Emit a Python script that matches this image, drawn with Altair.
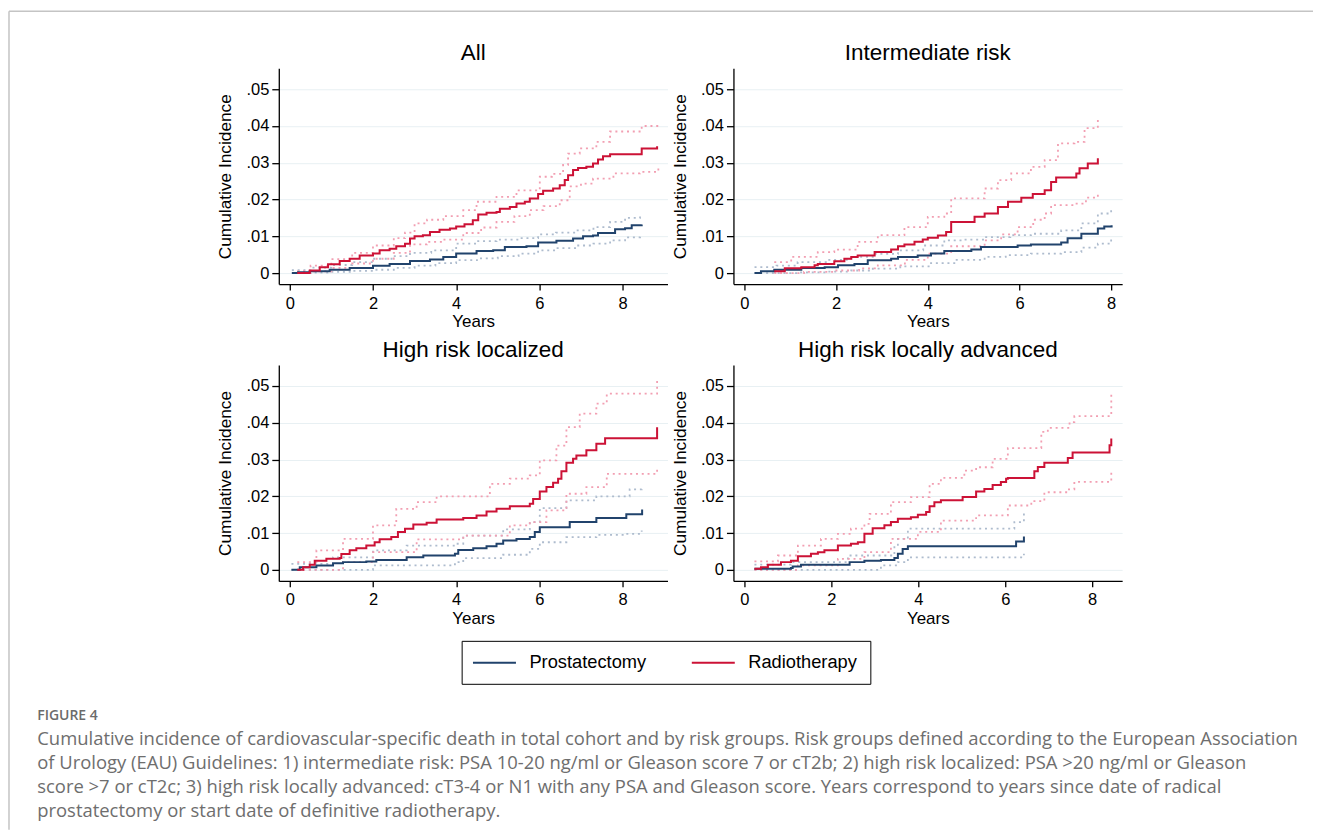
import altair as alt
import pandas as pd

NAVY = "#21436c"
RED = "#cc1236"
NAVY_CI = "#aebcce"
RED_CI = "#f29fb2"
FRAME = "#c4c4c4"
FONT = "Liberation Sans"
CAP_FONT = "Open Sans"

GROUPS = ["Prostatectomy", "Radiotherapy"]
CI_GROUPS = ["Prostatectomy CI", "Radiotherapy CI"]
PANELS = ["All", "Intermediate risk", "High risk localized", "High risk locally advanced"]
X_TICKS = [0, 2, 4, 6, 8]
Y_TICKS = [0, 0.01, 0.02, 0.03, 0.04, 0.05]

# ---- All ----
ALL_RP = [(0.05, 0.0), (0.2, 0.0002), (0.48, 0.0005), (0.96, 0.0009), (1.44, 0.0014), (2.0, 0.002),
          (2.4, 0.0025), (2.89, 0.0033), (3.37, 0.0037), (3.69, 0.0044), (4.0, 0.0053), (4.49, 0.006),
          (4.89, 0.0062), (5.17, 0.0071), (5.69, 0.0073), (5.97, 0.0083), (6.41, 0.0088), (6.81, 0.0094),
          (7.05, 0.01), (7.29, 0.0102), (7.41, 0.0109), (7.82, 0.0119), (8.06, 0.0122), (8.22, 0.013),
          (8.46, 0.0132)]
ALL_RP_HI = [(0.05, 0.0008), (0.5, 0.0015), (1.0, 0.0022), (1.5, 0.003), (2.0, 0.0039), (2.5, 0.0046),
             (2.89, 0.0055), (3.4, 0.0062), (4.0, 0.008), (4.5, 0.0087), (4.97, 0.0091), (5.5, 0.0095),
             (5.97, 0.0105), (6.4, 0.011), (6.89, 0.0116), (7.3, 0.0125), (7.7, 0.0139), (8.06, 0.015),
             (8.42, 0.0164)]
ALL_RP_LO = [(0.05, 0.0), (0.5, 0.0001), (1.0, 0.0003), (1.5, 0.0006), (2.0, 0.0009), (2.5, 0.0014),
             (3.0, 0.002), (3.5, 0.0027), (4.0, 0.0035), (4.5, 0.004), (5.0, 0.0046), (5.5, 0.0053),
             (5.97, 0.0062), (6.4, 0.0068), (6.9, 0.0075), (7.3, 0.008), (7.7, 0.0089), (8.06, 0.0097),
             (8.42, 0.0107)]
ALL_RT = [(0.18, 0.0), (0.48, 0.0007), (0.72, 0.0016), (0.92, 0.0024), (1.2, 0.0033), (1.44, 0.0039),
          (1.68, 0.0048), (2.0, 0.0053), (2.16, 0.0062), (2.4, 0.0066), (2.56, 0.0073), (2.77, 0.008),
          (2.89, 0.0094), (3.0, 0.01), (3.2, 0.0103), (3.37, 0.0112), (3.6, 0.0118), (3.85, 0.0121),
          (4.0, 0.0127), (4.2, 0.0133), (4.4, 0.0144), (4.53, 0.0159), (4.73, 0.0164), (4.97, 0.0166),
          (5.05, 0.0175), (5.29, 0.018), (5.45, 0.0189), (5.65, 0.0194), (5.77, 0.0203), (5.97, 0.0215),
          (6.09, 0.0224), (6.33, 0.023), (6.49, 0.0239), (6.61, 0.0253), (6.69, 0.0266), (6.81, 0.028),
          (6.93, 0.0286), (7.13, 0.0289), (7.29, 0.0298), (7.41, 0.0309), (7.53, 0.0318), (7.7, 0.0323),
          (8.46, 0.0339), (8.83, 0.0345)]
ALL_RT_HI = [(0.18, 0.0005), (0.5, 0.002), (1.0, 0.0038), (1.5, 0.0055), (2.0, 0.0075), (2.5, 0.0095),
             (2.77, 0.011), (3.0, 0.0135), (3.3, 0.0145), (3.69, 0.0155), (4.17, 0.0171), (4.49, 0.0194),
             (4.97, 0.0207), (5.45, 0.0225), (6.01, 0.0262), (6.3, 0.027), (6.57, 0.0294), (6.69, 0.0325),
             (6.97, 0.0339), (7.37, 0.0357), (7.7, 0.0385), (8.46, 0.04), (8.86, 0.0401)]
ALL_RT_LO = [(0.18, 0.0), (0.5, 0.0005), (1.0, 0.0014), (1.5, 0.0026), (2.0, 0.0039), (2.5, 0.0055),
             (2.89, 0.0078), (3.3, 0.0085), (3.69, 0.0091), (4.17, 0.0109), (4.6, 0.0124), (4.97, 0.0139),
             (5.4, 0.0155), (5.77, 0.0171), (6.1, 0.0182), (6.49, 0.0198), (6.73, 0.0236), (7.0, 0.0243),
             (7.29, 0.0257), (7.78, 0.0271), (8.42, 0.0275), (8.86, 0.0289)]

# ---- Intermediate risk ----
INT_RP = [(0.22, 0.0), (0.36, 0.0005), (0.65, 0.0009), (1.24, 0.0014), (1.75, 0.0016), (2.04, 0.0021),
          (2.4, 0.0025), (2.69, 0.0035), (3.2, 0.0039), (3.35, 0.0044), (3.78, 0.0048), (4.07, 0.0053),
          (4.36, 0.006), (4.95, 0.0064), (5.16, 0.0071), (5.96, 0.0075), (6.25, 0.0078), (6.91, 0.0083),
          (7.05, 0.0095), (7.35, 0.0107), (7.71, 0.0121), (7.85, 0.0127), (8.01, 0.013)]
INT_RP_HI = [(0.22, 0.0016), (0.7, 0.002), (1.16, 0.003), (1.8, 0.0036), (2.33, 0.0044), (2.8, 0.0052),
             (3.35, 0.0062), (3.9, 0.0075), (4.36, 0.0089), (4.8, 0.0091), (5.24, 0.0098), (5.8, 0.0103),
             (6.25, 0.0107), (6.91, 0.0116), (7.35, 0.0135), (7.71, 0.0162), (8.0, 0.0175)]
INT_RP_LO = [(0.22, 0.0), (1.2, 0.0002), (1.8, 0.0004), (2.33, 0.0007), (2.8, 0.0012), (3.4, 0.0018),
             (4.07, 0.0027), (4.6, 0.0036), (5.24, 0.0044), (5.7, 0.0049), (6.25, 0.0053), (6.91, 0.0057),
             (7.35, 0.0069), (7.71, 0.008), (8.0, 0.0091)]
INT_RT = [(0.65, 0.0005), (0.88, 0.0013), (1.24, 0.0016), (1.53, 0.0021), (1.6, 0.0025), (1.96, 0.0032),
          (2.18, 0.0039), (2.33, 0.0044), (2.47, 0.0048), (2.84, 0.0057), (3.2, 0.0064), (3.35, 0.0073),
          (3.49, 0.0078), (3.71, 0.0085), (3.89, 0.0091), (4.0, 0.0096), (4.22, 0.0102), (4.4, 0.0112),
          (4.51, 0.0139), (5.02, 0.0153), (5.24, 0.0162), (5.53, 0.018), (5.75, 0.0194), (6.04, 0.0205),
          (6.29, 0.0215), (6.55, 0.0225), (6.69, 0.0248), (6.8, 0.026), (7.24, 0.0271), (7.31, 0.0285),
          (7.49, 0.0298), (7.71, 0.0312)]
INT_RT_HI = [(0.65, 0.003), (1.02, 0.0044), (1.6, 0.0057), (1.96, 0.0064), (2.47, 0.0085), (2.91, 0.0103),
             (3.49, 0.0125), (4.0, 0.0153), (4.36, 0.0162), (4.51, 0.0203), (5.24, 0.023), (5.53, 0.0253),
             (5.82, 0.0271), (6.25, 0.0289), (6.55, 0.0307), (6.84, 0.0353), (7.2, 0.0357), (7.42, 0.0394),
             (7.71, 0.0416)]
INT_RT_LO = [(0.65, 0.0), (1.3, 0.0003), (1.96, 0.0007), (2.5, 0.0013), (2.91, 0.0021), (3.5, 0.0036),
             (4.0, 0.0053), (4.51, 0.0073), (5.24, 0.0089), (5.6, 0.0105), (5.96, 0.0125), (6.3, 0.0145),
             (6.55, 0.0162), (6.69, 0.0185), (7.2, 0.0189), (7.45, 0.0205), (7.71, 0.0221)]

# ---- High risk localized ----
HRL_RP = [(0.04, 0.0), (0.24, 0.0007), (0.64, 0.0012), (1.04, 0.0018), (1.28, 0.0021), (1.84, 0.0023),
          (2.08, 0.0027), (2.81, 0.0034), (3.21, 0.0039), (3.97, 0.0044), (4.05, 0.0054), (4.41, 0.0059),
          (4.73, 0.0064), (4.97, 0.0071), (5.13, 0.008), (5.45, 0.0084), (5.77, 0.0089), (5.89, 0.0103),
          (6.01, 0.0116), (6.73, 0.013), (7.37, 0.0141), (8.09, 0.0151), (8.47, 0.0164)]
HRL_RP_HI = [(0.04, 0.0016), (1.04, 0.0034), (2.0, 0.0053), (2.81, 0.0066), (3.97, 0.0071), (4.17, 0.0093),
             (5.13, 0.011), (5.77, 0.013), (6.01, 0.0168), (6.65, 0.0189), (7.37, 0.02), (8.17, 0.0219),
             (8.46, 0.023)]
HRL_RP_LO = [(0.04, 0.0), (2.0, 0.0012), (3.97, 0.0021), (4.17, 0.0032), (5.13, 0.0041), (5.77, 0.0057),
             (6.01, 0.0075), (6.65, 0.0089), (7.37, 0.0095), (8.05, 0.0098), (8.46, 0.0107)]
HRL_RT = [(0.18, 0.0), (0.32, 0.0007), (0.48, 0.0014), (0.6, 0.0025), (0.88, 0.003), (1.2, 0.0032),
          (1.24, 0.0043), (1.44, 0.0053), (1.6, 0.0059), (1.84, 0.0066), (2.04, 0.0075), (2.16, 0.0083),
          (2.44, 0.0089), (2.6, 0.0103), (2.77, 0.0112), (2.97, 0.0123), (3.29, 0.0128), (3.53, 0.0137),
          (4.17, 0.0141), (4.49, 0.0148), (4.73, 0.0159), (4.97, 0.0166), (5.29, 0.0173), (5.77, 0.018),
          (5.85, 0.0193), (6.01, 0.0213), (6.17, 0.0225), (6.33, 0.0237), (6.45, 0.0248), (6.53, 0.0268),
          (6.65, 0.0291), (6.81, 0.0302), (6.89, 0.0311), (7.13, 0.0325), (7.37, 0.0343), (7.58, 0.0358),
          (8.83, 0.0388)]
HRL_RT_HI = [(0.18, 0.0021), (0.64, 0.0053), (1.28, 0.0084), (2.0, 0.0121), (2.56, 0.0166), (3.05, 0.0184),
             (3.53, 0.02), (4.81, 0.0234), (5.29, 0.0248), (5.77, 0.0257), (6.01, 0.0298), (6.41, 0.0338),
             (6.65, 0.0388), (6.97, 0.0425), (7.37, 0.0452), (7.62, 0.0479), (8.83, 0.0524)]
HRL_RT_LO = [(0.18, 0.0), (1.28, 0.0021), (2.0, 0.0048), (3.05, 0.0083), (4.17, 0.0093), (5.29, 0.0121),
             (5.77, 0.013), (6.17, 0.0162), (6.65, 0.0207), (7.13, 0.0225), (7.62, 0.0261), (8.83, 0.0275)]

# ---- High risk locally advanced ----
HRA_RP = [(0.23, 0.0003), (1.07, 0.0005), (1.11, 0.0009), (1.3, 0.0014), (2.42, 0.0021), (2.76, 0.0025),
          (3.14, 0.0027), (3.45, 0.0032), (3.53, 0.0044), (3.64, 0.0057), (3.76, 0.0064), (6.25, 0.0077),
          (6.43, 0.0091)]
HRA_RP_HI = [(0.23, 0.0014), (1.07, 0.0021), (2.38, 0.0039), (3.45, 0.0062), (3.53, 0.0084), (3.76, 0.0112),
             (6.21, 0.013), (6.43, 0.0157)]
HRA_RP_LO = [(0.23, 0.0), (3.14, 0.0012), (3.53, 0.0021), (3.76, 0.0034), (6.43, 0.0044)]
HRA_RT = [(0.23, 0.0003), (0.38, 0.0007), (0.54, 0.0014), (0.84, 0.0021), (1.07, 0.0025), (1.23, 0.0037),
          (1.53, 0.0044), (1.69, 0.0048), (1.84, 0.0053), (2.15, 0.0066), (2.45, 0.0071), (2.61, 0.0075),
          (2.76, 0.0098), (2.95, 0.0113), (3.22, 0.0121), (3.37, 0.013), (3.53, 0.0139), (3.83, 0.0143),
          (3.99, 0.015), (4.18, 0.0157), (4.26, 0.0173), (4.37, 0.0184), (4.52, 0.0189), (5.02, 0.0198),
          (5.33, 0.0213), (5.52, 0.022), (5.71, 0.0231), (5.9, 0.0239), (6.02, 0.0248), (6.06, 0.025),
          (6.67, 0.0268), (6.75, 0.028), (6.9, 0.0291), (7.44, 0.0304), (7.55, 0.0319), (8.4, 0.0339),
          (8.44, 0.0357)]
HRA_RT_HI = [(0.23, 0.0023), (0.77, 0.0039), (1.23, 0.0066), (1.76, 0.0084), (2.15, 0.0098), (2.45, 0.0112),
             (2.76, 0.0125), (2.88, 0.0152), (3.37, 0.0184), (3.83, 0.0198), (4.26, 0.0234), (4.52, 0.025),
             (5.06, 0.027), (5.33, 0.0279), (5.71, 0.0302), (6.06, 0.0331), (6.83, 0.0375), (6.98, 0.0386),
             (7.48, 0.0402), (7.59, 0.0418), (8.44, 0.0479)]
HRA_RT_LO = [(0.23, 0.0), (1.23, 0.0012), (2.15, 0.003), (2.76, 0.0048), (3.37, 0.0084), (3.99, 0.0103),
             (4.52, 0.0134), (5.33, 0.0148), (6.06, 0.0175), (6.6, 0.0187), (6.9, 0.0211), (7.44, 0.0219),
             (7.59, 0.0239), (8.44, 0.0266)]

CAPTION_TITLE = "FIGURE 4"
CAPTION_LINES = [
    "Cumulative incidence of cardiovascular-specific death in total cohort and by risk groups. Risk groups defined according to the European Association",
    "of Urology (EAU) Guidelines: 1) intermediate risk: PSA 10-20 ng/ml or Gleason score 7 or cT2b; 2) high risk localized: PSA >20 ng/ml or Gleason",
    "score >7 or cT2c; 3) high risk locally advanced: cT3-4 or N1 with any PSA and Gleason score. Years correspond to years since date of radical",
    "prostatectomy or start date of definitive radiotherapy.",
]

CURVES = {
    "All": [ALL_RP, ALL_RP_HI, ALL_RP_LO, ALL_RT, ALL_RT_HI, ALL_RT_LO],
    "Intermediate risk": [INT_RP, INT_RP_HI, INT_RP_LO, INT_RT, INT_RT_HI, INT_RT_LO],
    "High risk localized": [HRL_RP, HRL_RP_HI, HRL_RP_LO, HRL_RT, HRL_RT_HI, HRL_RT_LO],
    "High risk locally advanced": [HRA_RP, HRA_RP_HI, HRA_RP_LO, HRA_RT, HRA_RT_HI, HRA_RT_LO],
}
KEYS = [("Prostatectomy", "est"), ("Prostatectomy", "hi"), ("Prostatectomy", "lo"),
        ("Radiotherapy", "est"), ("Radiotherapy", "hi"), ("Radiotherapy", "lo")]

rows = []
for pname, curves in CURVES.items():
    for (grp, kind), pts in zip(KEYS, curves):
        for x, y in pts:
            rows.append({"panel": pname, "group": grp, "cigroup": grp + " CI", "kind": kind, "x": x, "y": y})
df = pd.DataFrame(rows)

X_DOMAINS = {
    "All": [-0.264, 9.08],
    "Intermediate risk": [-0.24, 8.24],
    "High risk localized": [-0.264, 9.08],
    "High risk locally advanced": [-0.253, 8.69],
}
Y_DOMAIN = [-0.003, 0.0557]
W, H = 389, 216
COL_GAP, ROW_GAP = 66, 81

# legend symbol: a horizontal stroke starting near the entry's left edge
LEGEND = alt.Legend(
    orient="none", legendX=183, legendY=573, direction="horizontal", title=None,
    symbolType="M-2.4,0H7.6", symbolSize=74, symbolStrokeWidth=2, labelFont=FONT,
    labelFontSize=18.3, labelColor="black", labelOffset=37, columnPadding=40,
    padding=12.5, strokeColor="black", cornerRadius=0, fillColor="white",
)


def panel(name):
    base = alt.Chart(df[df.panel == name])
    x = alt.X("x:Q", scale=alt.Scale(domain=X_DOMAINS[name], nice=False, zero=False),
              axis=alt.Axis(values=X_TICKS, title="Years", grid=False, tickSize=6, labelPadding=5,
                            titlePadding=2, titleFontSize=17, format="d"))
    y = alt.Y("y:Q", scale=alt.Scale(domain=Y_DOMAIN, nice=False, zero=False),
              axis=alt.Axis(values=Y_TICKS, title="Cumulative Incidence", grid=True, tickSize=7,
                            labelPadding=3, titlePadding=11, titleFontSize=17.3,
                            labelExpr="datum.value == 0 ? '0' : replace(format(datum.value, '.2f'), '0.', '.')"))
    ci = base.transform_filter(alt.datum.kind != "est").mark_line(
        interpolate="step-after", strokeDash=[2, 3.8], strokeWidth=1.8
    ).encode(
        x=x, y=y,
        stroke=alt.Stroke("cigroup:N", scale=alt.Scale(domain=CI_GROUPS, range=[NAVY_CI, RED_CI]), legend=None),
        detail="kind:N",
    )
    est = base.transform_filter(alt.datum.kind == "est").mark_line(
        interpolate="step-after", strokeWidth=2
    ).encode(
        x=x, y=y,
        color=alt.Color("group:N", scale=alt.Scale(domain=GROUPS, range=[NAVY, RED]), legend=LEGEND),
    )
    return alt.layer(ci, est).properties(
        width=W, height=H,
        title=alt.TitleParams(name, fontSize=22.5, font=FONT, fontWeight="normal", color="black",
                              anchor="middle", baseline="bottom", offset=3, dy=22),
    )


cap = alt.Chart(pd.DataFrame({"f": [0]})).mark_point(opacity=0).encode(
    x=alt.value(0), y=alt.value(0)
).properties(
    width=W, height=1,
    title=alt.TitleParams(
        CAPTION_TITLE, subtitle=CAPTION_LINES, anchor="start", dx=-239, offset=44, orient="bottom",
        font=CAP_FONT, fontSize=14, fontWeight=600, color="#6b6b6b",
        subtitleFont=CAP_FONT, subtitleFontSize=18.45, subtitleColor="#6e6e6e",
        subtitleLineHeight=24, subtitlePadding=8,
    ),
)

# page frame (top and left border of the figure card), drawn in an untitled cell
one = alt.Chart(pd.DataFrame({"f": [0]}))
frame = alt.layer(
    one.mark_rule(color=FRAME, strokeWidth=1.5).encode(
        x=alt.value(-725), x2=alt.value(580), y=alt.value(-651)),
    one.mark_rule(color=FRAME, strokeWidth=1.5).encode(
        x=alt.value(-725), y=alt.value(-651), y2=alt.value(168)),
).properties(width=W, height=1)

chart = alt.concat(
    panel("All"), panel("Intermediate risk"),
    panel("High risk localized"), panel("High risk locally advanced"),
    cap, frame,
    columns=2, spacing={"row": ROW_GAP, "column": COL_GAP}, bounds="flush",
).resolve_scale(
    color="shared", stroke="shared"
).properties(
    padding={"left": 0, "top": 2, "right": 0, "bottom": 2}
).configure_view(stroke=None).configure_axis(
    labelFont=FONT, labelFontSize=16.5, labelColor="black", titleFont=FONT, titleFontSize=16.5,
    titleFontWeight="normal", titleColor="black", domainColor="black", tickColor="black",
    domainWidth=1.3, tickWidth=1.3, gridColor="#e8f0f3", gridWidth=1,
)

chart.save("out.html", embed_options={"renderer": "svg", "actions": False})
